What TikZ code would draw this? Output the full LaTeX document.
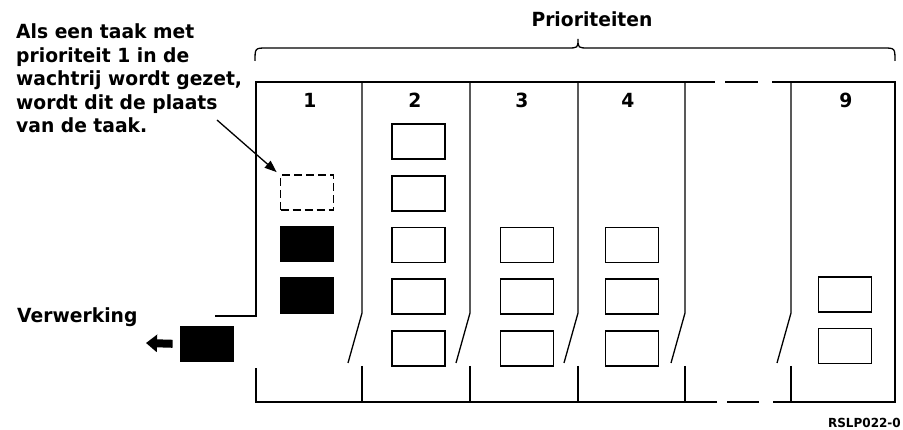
\documentclass[tikz,border=0pt]{standalone}
\usepackage{fontspec}
\setmainfont{DejaVu Sans}[FakeStretch=0.96,UprightFont=*,BoldFont=* Bold]
\usetikzlibrary{arrows.meta}
\begin{document}
\begin{tikzpicture}[x=1pt,y=-1pt,
  qbox/.style={draw,line width=1.8pt,minimum width=53pt,minimum height=35pt,inner sep=0pt},
  dbox/.style={qbox,dash pattern=on 8pt off 4pt},
  fbox/.style={qbox,fill=black},
  frame/.style={line width=1.8pt},
  divider/.style={line width=1.3pt},
  big/.style={font=\fontsize{19.5}{23.5}\selectfont\bfseries},
  lbl/.style={big,anchor=base,inner sep=0pt}]
\useasboundingbox (0,0) rectangle (903,430);
% brace and title
\node[lbl] (title) at (592,27) {Prioriteiten};
\draw[line width=1.3pt] (255,61) .. controls (255,48) .. (267,48) -- (567,48) .. controls (578,48) .. (578,39)
  .. controls (578,48) .. (589,48) -- (883,48) .. controls (895,48) .. (895,61);
% frame
\draw[frame] (215,316) -- (256,316) -- (256,82) -- (715,82);
\draw[frame] (725,82) -- (758,82);
\draw[frame] (772,82) -- (895,82) -- (895,402) -- (773,402);
\draw[frame] (759,402) -- (727,402);
\draw[frame] (717,402) -- (256,402) -- (256,368);
% dividers
\foreach \X in {362,470,578,685,791}{
  \draw[divider] (\X,82) -- (\X,313) -- (\X-14,363);
  \draw[divider] (\X,366) -- (\X,402);
}
% column numbers
\node[lbl] (n1) at (310,108) {1};
\node[lbl] (n2) at (415,108) {2};
\node[lbl] (n3) at (522,108) {3};
\node[lbl] (n4) at (628,108) {4};
\node[lbl] (n9) at (846,108) {9};
% column 1
\node[dbox] (d1) at (307,192.5) {};
\node[fbox] (f1) at (307,244) {};
\node[fbox] (f2) at (307,295.5) {};
% column 2
\node[qbox] (b21) at (418.5,141.5) {};
\node[qbox] (b22) at (418.5,193.5) {};
\node[qbox] (b23) at (418.5,245) {};
\node[qbox] (b24) at (418.5,296.5) {};
\node[qbox] (b25) at (418.5,348.5) {};
% column 3
\node[qbox] (b33) at (527,245) {};
\node[qbox] (b34) at (527,296.5) {};
\node[qbox] (b35) at (527,348.5) {};
% column 4
\node[qbox] (b43) at (632,245) {};
\node[qbox] (b44) at (632,296.5) {};
\node[qbox] (b45) at (632,348.5) {};
% column 9
\node[qbox] (b94) at (845,294.5) {};
\node[qbox] (b95) at (845,346) {};
% annotation
\node[big,anchor=base west,align=left,inner sep=0pt] (note) at (16,133)
  {Als een taak met\\prioriteit 1 in de\\wachtrij wordt gezet,\\wordt dit de plaats\\van de taak.};
\coordinate (nstart) at (217,120);
\draw[line width=1.3pt,-{Triangle[length=12pt,width=9pt]}] (nstart) -- ([shift={(-3,-2)}]d1.north west);
% processing
\node[lbl,anchor=base west] (verw) at (17,323) {Verwerking};
\node[fbox] (proc) at (207,344) {};
\coordinate (out) at (146,343);
\draw[line width=8pt,-{Triangle[length=11pt,width=17pt]},shorten <=7pt] (proc.west) -- (out);
% code
\node[anchor=base east,inner sep=0pt,font=\fontsize{12.5}{15}\selectfont\bfseries] (code) at (901,428) {RSLP022-0};
\end{tikzpicture}
\end{document}
